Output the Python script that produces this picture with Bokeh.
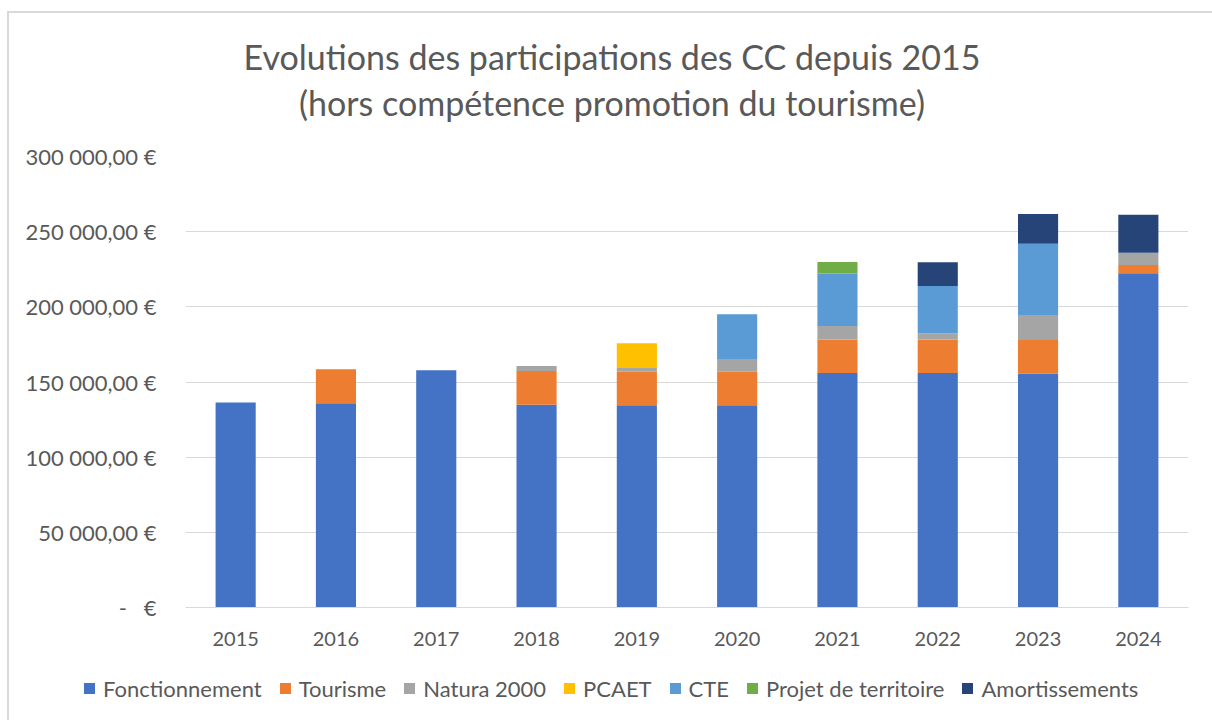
from bokeh.plotting import figure
from bokeh.models import FactorRange, Range1d, FixedTicker, Div
from bokeh.layouts import column
from bokeh.embed import file_html
from bokeh.resources import INLINE

years = ["2015", "2016", "2017", "2018", "2019", "2020", "2021", "2022", "2023", "2024"]
series = ["Fonctionnement", "Tourisme", "Natura 2000", "PCAET", "CTE", "Projet de territoire", "Amortissements"]
fonctionnement = [136300, 135800, 157800, 134900, 134500, 134500, 156000, 156000, 155600, 222300]
tourisme = [0, 22700, 0, 22400, 22400, 22400, 22300, 22300, 22400, 5500]
natura_2000 = [0, 0, 0, 3300, 2400, 8400, 8900, 4200, 16500, 8200]
pcaet = [0, 0, 0, 0, 16500, 0, 0, 0, 0, 0]
cte = [0, 0, 0, 0, 0, 29800, 34900, 31300, 47500, 0]
projet = [0, 0, 0, 0, 0, 0, 7800, 0, 0, 0]
amortissements = [0, 0, 0, 0, 0, 0, 0, 15800, 19800, 25300]
colors = ["#4472C4", "#ED7D31", "#A5A5A5", "#FFC000", "#5B9BD5", "#70AD47", "#264478"]
y_ticks = [0, 50000, 100000, 150000, 200000, 250000, 300000]
y_tick_labels = ["-\u00a0\u00a0\u00a0€", "50 000,00 €", "100 000,00 €", "150 000,00 €",
                 "200 000,00 €", "250 000,00 €", "300 000,00 €"]
title_lines = ["Evolutions des participations des CC depuis 2015", "(hors compétence promotion du tourisme)"]

FONT = "Lato"
TXT = "#595959"

data = {"years": years}
keys = []
for name, vals in zip(series, [fonctionnement, tourisme, natura_2000, pcaet, cte, projet, amortissements]):
    data[name] = vals
    keys.append(name)

# ---- title (HTML) ----
title_div = Div(
    text=f"<div style='font-family:Lato;font-size:34px;color:{TXT};text-align:center;"
         f"width:1206px;padding-top:21px;line-height:46px;white-space:nowrap'>"
         + "<br>".join(title_lines) + "</div>",
    width=1203, height=123, margin=0)

# ---- main chart ----
p = figure(width=1203, height=529, x_range=FactorRange(*years, range_padding=0),
           y_range=Range1d(0, 300000), output_backend="svg", toolbar_location=None,
           min_border_left=176, min_border_right=24, min_border_top=20, min_border_bottom=58)
p.outline_line_color = None
p.background_fill_color = "white"
p.border_fill_color = "white"

p.vbar_stack(keys, x="years", width=0.4, color=colors, line_color=None, source=data)

p.xgrid.grid_line_color = None
p.ygrid.grid_line_color = "#D9D9D9"
p.ygrid.grid_line_width = 1

p.yaxis.ticker = FixedTicker(ticks=y_ticks)
p.yaxis.major_label_overrides = {t: l for t, l in zip(y_ticks, y_tick_labels)}
p.yaxis.axis_line_color = None
p.yaxis.major_tick_line_color = None
p.yaxis.minor_tick_line_color = None
p.yaxis.major_label_standoff = 23
p.yaxis.major_label_text_font = FONT
p.yaxis.major_label_text_font_size = "22px"
p.yaxis.major_label_text_color = TXT

p.xaxis.axis_line_color = "#D9D9D9"
p.xaxis.major_tick_line_color = None
p.xaxis.minor_tick_line_color = None
p.xaxis.major_label_standoff = 18
p.xaxis.major_label_text_font = FONT
p.xaxis.major_label_text_font_size = "20px"
p.xaxis.major_label_text_color = TXT

# ---- legend strip (HTML) ----
item_html = "".join(
    f"<span style='display:inline-flex;align-items:center;margin-right:18px'>"
    f"<span style='display:inline-block;width:11px;height:11px;background:{c};margin-right:8px'></span>"
    f"{name}</span>"
    for name, c in zip(series, colors)
)
legend_div = Div(
    text=f"<div style='font-family:Lato;font-size:22px;color:{TXT};padding-left:75px;"
         f"padding-top:8px;white-space:nowrap;line-height:26px'>{item_html}</div>",
    width=1203, height=55, margin=0)

layout = column(title_div, p, legend_div, spacing=0,
                styles={"margin-left": "7px", "margin-top": "11px",
                        "border-left": "2px solid #D9D9D9", "border-top": "2px solid #D9D9D9"})

open("out.html", "w").write(file_html(layout, INLINE))
